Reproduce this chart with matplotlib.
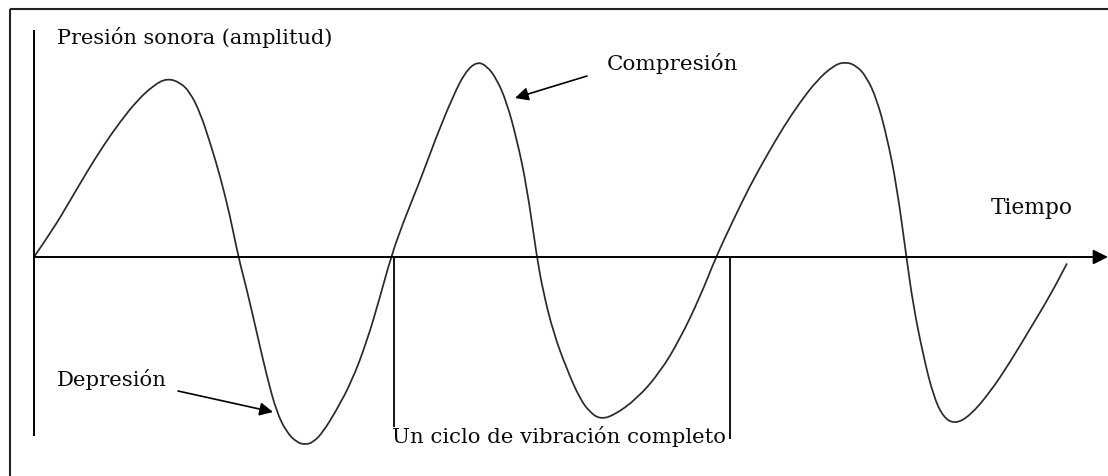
import matplotlib
matplotlib.use("Agg")
import matplotlib.pyplot as plt
from matplotlib.path import Path
from matplotlib.patches import PathPatch

# Sound pressure wave (time, pressure; origin where the axes cross)
curve_time = [0, 19.3, 36, 52.7, 69.3, 86, 102.7, 119.3, 132.7, 146, 156, 166, 176, 186, 196,
              204.3, 212.7, 222.7, 232.7, 242.7, 252.7, 262.7, 271, 279.3, 289, 302, 317.5,
              332.7, 346, 357,
              369.3, 386, 402.7, 419.3, 431, 442.7, 452.7, 462.7, 472.7, 482.7, 492.7, 502.7,
              509.3, 519.3, 532.7, 546, 556, 566, 579.3, 602.7, 626, 646, 666, 682,
              699.3, 716, 732.7, 749.3, 766, 782.7, 799.3, 811, 822.7, 832.7, 842.7, 852.7,
              862.7, 872.3, 879.3, 889.3, 899.3, 909.3, 921, 936, 956, 976, 996, 1016, 1032.7]
curve_pressure = [0, 28, 56.3, 84.7, 111.3, 135, 156, 171.5, 178.7, 174.7, 164.7, 144.7, 114.7,
                  81.3, 41.3, 0.3, -32, -75.3, -118.7, -155.3, -175.3, -185.3, -187.7, -185.3,
                  -175, -154, -125, -85, -40, 0,
                  35, 76, 121.3, 161.3, 184.7, 195.3, 191.3, 178, 154.7, 118, 71.3, 0.7,
                  -35.3, -75.3, -112, -142, -155.3, -162, -158.7, -142, -115.3, -82, -40, 0,
                  37, 71.3, 101.3, 129.7, 154.7, 176.3, 191.3, 195.3, 191.3, 179.7, 158, 121.3,
                  71.3, 0.7, -48.7, -98.7, -138.7, -160.3, -167, -158.7, -135.3, -105.3, -72,
                  -38.7, -7]

# One complete vibration cycle (start and end times)
cycle_times = [360, 696]

# Texts
y_label = "Presión sonora (amplitud)"
x_label = "Tiempo"
peak_label = "Compresión"
trough_label = "Depresión"
cycle_label = "Un ciclo de vibración completo"

fig = plt.figure(figsize=(11.08, 4.77), dpi=100)
ax = fig.add_axes([0, 0, 1, 1])
ax.set_xlim(-34, 1074)
ax.set_ylim(-219, 258)
ax.axis("off")

FONT = "DejaVu Serif"
TXT = "#0a0a0a"

# Outer frame (extends past right/bottom edges)
ax.plot([-24, -24], [-260, 248], color="#222222", lw=1.5, solid_capstyle="butt")
ax.plot([-24, 1100], [248, 248], color="#222222", lw=1.5, solid_capstyle="butt")

# Vertical axis
ax.plot([0, 0], [227, -179], color="black", lw=1.4, solid_capstyle="butt")
# Horizontal (time) axis with arrow
ax.annotate("", xy=(1074, 0), xytext=(0, 0),
            arrowprops=dict(arrowstyle="-|>", color="black", lw=1.4,
                            mutation_scale=22, shrinkA=0, shrinkB=0))

# Cycle markers
ax.plot([cycle_times[0]] * 2, [0, -170], color="black", lw=1.3, solid_capstyle="butt")
ax.plot([cycle_times[1]] * 2, [0, -182], color="black", lw=1.3, solid_capstyle="butt")

# Wave: read points used as quadratic Bezier controls for a smooth stroke
pts = list(zip(curve_time, curve_pressure))
verts = [pts[0]]
codes = [Path.MOVETO]
for i in range(1, len(pts) - 1):
    mid = ((pts[i][0] + pts[i + 1][0]) / 2, (pts[i][1] + pts[i + 1][1]) / 2)
    verts += [pts[i], mid]
    codes += [Path.CURVE3, Path.CURVE3]
verts.append(pts[-1])
codes.append(Path.LINETO)
ax.add_patch(PathPatch(Path(verts, codes), facecolor="none", edgecolor="#2a2a2a",
                       lw=1.25, joinstyle="round", capstyle="round"))

# Arrows to compression / depression
ax.annotate("", xy=(481, 159), xytext=(553, 181),
            arrowprops=dict(arrowstyle="-|>", color="black", lw=1.2,
                            mutation_scale=20, shrinkA=0, shrinkB=0))
ax.annotate("", xy=(239, -155), xytext=(144, -134),
            arrowprops=dict(arrowstyle="-|>", color="black", lw=1.2,
                            mutation_scale=20, shrinkA=0, shrinkB=0))

texts = [
    (y_label, 23, 221, 275),
    (peak_label, 573, 195, 130),
    (trough_label, 23, -122, 110),
    (x_label, 957, 50, 82),
    (cycle_label, 358, -179, 335),
]
objs = []
for s, x, y, w in texts:
    t = ax.text(x, y, s, ha="left", va="center", family=FONT, fontsize=12, color=TXT)
    objs.append((t, w))

fig.canvas.draw()
r = fig.canvas.get_renderer()
for t, w in objs:
    cur = t.get_window_extent(r).width
    t.set_fontsize(12 * w / cur)

fig.savefig("out.png", dpi=100)
